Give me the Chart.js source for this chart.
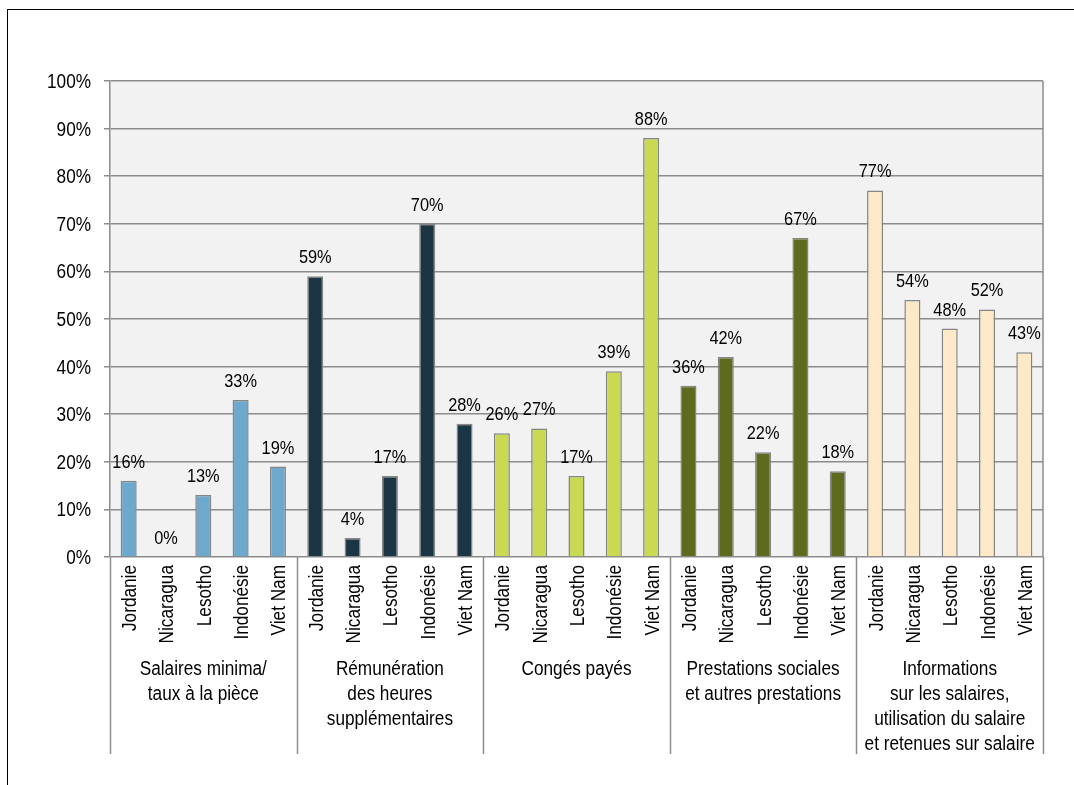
<!DOCTYPE html>
<html lang="fr">
<head>
<meta charset="utf-8">
<title>Rémunération</title>
<script src="https://cdn.jsdelivr.net/npm/chart.js@4"></script>
<style>
    html, body { margin: 0; padding: 0; background: #fff; overflow: hidden; }
    #wrap { position: relative; width: 1074px; height: 785px; }
    #frame { position: absolute; left: 7px; top: 9px; width: 1080px; height: 800px; border: 1px solid #000; }
    #chart { position: absolute; left: 0; top: 0; }
</style>
</head>
<body>
<div id="wrap">
    <div id="frame"></div>
    <canvas id="chart" width="1074" height="785"></canvas>
</div>
<script>
const countries = ['Jordanie', 'Nicaragua', 'Lesotho', 'Indonésie', 'Viet Nam'];

const groupNames = [
    ['Salaires minima/', 'taux à la pièce'],
    ['Rémunération', 'des heures', 'supplémentaires'],
    ['Congés payés'],
    ['Prestations sociales', 'et autres prestations'],
    ['Informations', 'sur les salaires,', 'utilisation du salaire', 'et retenues sur salaire']
];

const salairesMinima = [16, 0, 13, 33, 19];
const heuresSupp = [59, 4, 17, 70, 28];
const congesPayes = [26, 27, 17, 39, 88];
const prestations = [36, 42, 22, 67, 18];
const infoSalaires = [77, 54, 48, 52, 43];

const groupColors = ['#6ea8cd', '#1b3545', '#c9d953', '#5e6b1f', '#fde9c8'];

const yTicks = [0, 10, 20, 30, 40, 50, 60, 70, 80, 90, 100];

const FONT = "'Liberation Sans', Arial, sans-serif";
// the labels use a narrow face; squeeze the regular one horizontally
const NARROW = 0.86;

const groupValues = [salairesMinima, heuresSupp, congesPayes, prestations, infoSalaires];
const labels = [];
const values = [];
const colors = [];
groupValues.forEach((vals, g) => {
    vals.forEach((v, i) => {
        labels.push(countries[i]);
        values.push(v);
        colors.push(groupColors[g]);
    });
});

function narrowText(ctx, text, x, y, align) {
    ctx.save();
    ctx.translate(x, y);
    ctx.scale(NARROW, 1);
    ctx.textAlign = align;
    ctx.fillText(text, 0, 0);
    ctx.restore();
}

// plot background, right border, all texts, group separators
const extras = {
    id: 'extras',
    beforeDraw(chart) {
        const { ctx, chartArea: a } = chart;
        ctx.save();
        ctx.fillStyle = '#f2f2f2';
        ctx.fillRect(a.left, a.top, a.right - a.left, a.bottom - a.top);
        ctx.restore();
    },
    afterDatasetsDraw(chart) {
        const { ctx } = chart;
        const meta = chart.getDatasetMeta(0);
        ctx.save();
        ctx.font = '19px ' + FONT;
        ctx.fillStyle = '#000';
        ctx.textBaseline = 'alphabetic';
        meta.data.forEach((bar, i) => {
            narrowText(ctx, values[i] + '%', bar.x, bar.y - 13, 'center');
        });
        ctx.restore();
    },
    afterDraw(chart) {
        const { ctx, chartArea: a } = chart;
        const x = chart.scales.x;
        const y = chart.scales.y;
        ctx.save();
        ctx.strokeStyle = '#8c8c8c';
        ctx.lineWidth = 1.5;
        ctx.beginPath();
        ctx.moveTo(a.right, a.top);
        ctx.lineTo(a.right, a.bottom);
        ctx.stroke();

        const step = (a.right - a.left) / labels.length;
        for (let g = 0; g <= groupNames.length; g++) {
            const sx = Math.round(a.left + g * 5 * step) + 0.5;
            ctx.beginPath();
            ctx.moveTo(sx, a.bottom);
            ctx.lineTo(sx, 754);
            ctx.stroke();
        }

        ctx.font = '20px ' + FONT;
        ctx.fillStyle = '#000';
        ctx.textBaseline = 'alphabetic';

        // y tick labels
        yTicks.forEach(v => {
            narrowText(ctx, v + '%', 91, y.getPixelForValue(v) + 7, 'right');
        });

        // country names, reading upwards
        labels.forEach((name, i) => {
            ctx.save();
            ctx.translate(x.getPixelForValue(i) + 7.5, a.bottom + 8);
            ctx.rotate(-Math.PI / 2);
            narrowText(ctx, name, 0, 0, 'right');
            ctx.restore();
        });

        // group titles
        groupNames.forEach((lines, g) => {
            const cx = (x.getPixelForValue(g * 5) + x.getPixelForValue(g * 5 + 4)) / 2;
            lines.forEach((line, k) => {
                narrowText(ctx, line, cx, 675 + k * 25, 'center');
            });
        });
        ctx.restore();
    }
};

new Chart(document.getElementById('chart'), {
    type: 'bar',
    data: {
        labels: labels,
        datasets: [{
            data: values,
            backgroundColor: colors,
            borderColor: '#858585',
            borderWidth: 1.5,
            barPercentage: 0.43,
            categoryPercentage: 1
        }]
    },
    options: {
        responsive: false,
        animation: false,
        layout: { padding: { top: 81, right: 31, left: 0, bottom: 0 } },
        plugins: {
            legend: { display: false },
            tooltip: { enabled: false }
        },
        scales: {
            x: {
                grid: { display: false },
                border: { display: false },
                ticks: { display: false },
                afterFit(scale) { scale.height = 228; }
            },
            y: {
                min: 0,
                max: 100,
                afterBuildTicks(scale) { scale.ticks = yTicks.map(v => ({ value: v })); },
                grid: { color: '#8c8c8c', lineWidth: 1.5, tickLength: 6 },
                border: { color: '#8c8c8c', width: 1.5 },
                ticks: { color: 'rgba(0,0,0,0)', font: { family: FONT, size: 20 } },
                afterFit(scale) { scale.width = 110; }
            }
        }
    },
    plugins: [extras]
});
</script>
</body>
</html>
